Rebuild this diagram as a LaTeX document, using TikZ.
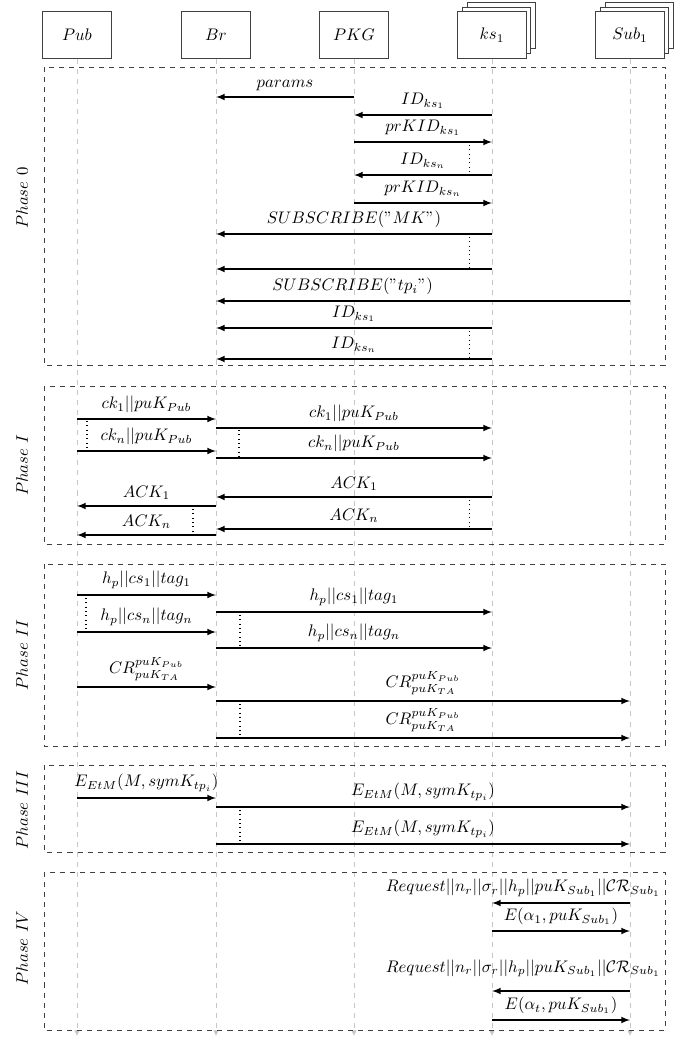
\documentclass[tikz,border=0pt]{standalone}
\usetikzlibrary{arrows.meta,shadows}
\tikzset{
  actor box/.style={draw=black!75, semithick, fill=white, minimum width=1.43cm, minimum height=0.97cm, inner sep=0pt},
  actor stack/.style={actor box, double copy shadow={shadow xshift=1mm, shadow yshift=1mm, draw=black!75, fill=white}},
  life line/.style={gray!45, dashed, thin, -{Latex[length=1.2mm,width=1.2mm]}},
  phase box/.style={draw=black!75, dashed, thin},
  phase label/.style={rotate=90},
  msg/.style={thick, -latex},
  msg label/.style={midway, above},
  msg dots/.style={dotted, semithick},
}
\newcommand{\sendmsg}[5][]{\draw[msg] (#2 |- 0,#4) -- node[msg label,#1] {#5} (#3 |- 0,#4);}

\begin{document}
\begin{tikzpicture}[x=0.021cm, y=-0.021cm]
\useasboundingbox (0,0) rectangle (686,1040);

\node[actor box] (pub) at (77,35) {$Pub$};
\node[actor box] (br) at (216,35) {$Br$};
\node[actor box] (pkg) at (354,35) {$PKG$};
\node[actor stack] (ks) at (492,35) {$ks_1$};
\node[actor stack] (sub) at (630,35) {$Sub_1$};

\coordinate (bottom) at (0,1036);
\foreach \a in {pub,br,pkg,ks,sub}
  \draw[life line] (\a.south) -- (\a.south |- bottom);

\draw[phase box] (44,67) rectangle (665,365);
\draw[phase box] (44,386) rectangle (665,544);
\draw[phase box] (44,564) rectangle (665,746);
\draw[phase box] (44,765) rectangle (665,852);
\draw[phase box] (44,872) rectangle (665,1030);

\node[phase label] (ph0) at (22,198) {$Phase\ 0$};
\node[phase label] (ph1) at (22,465) {$Phase\ I$};
\node[phase label] (ph2) at (22,655) {$Phase\ II$};
\node[phase label] (ph3) at (22,810) {$Phase\ III$};
\node[phase label] (ph4) at (22,948) {$Phase\ IV$};

\sendmsg{pkg}{br}{97}{$params$}
\sendmsg{ks}{pkg}{115}{$ID_{ks_1}$}
\sendmsg{pkg}{ks}{142}{$prKID_{ks_1}$}
\draw[msg dots] (469,145) -- (469,174);
\sendmsg{ks}{pkg}{175}{$ID_{ks_n}$}
\sendmsg{pkg}{ks}{203}{$prKID_{ks_n}$}
\sendmsg{ks}{br}{234}{$SUBSCRIBE("MK")$}
\draw[msg dots] (469,237) -- (469,268);
\sendmsg{ks}{br}{269}{}
\sendmsg[pos=0.67]{sub}{br}{301}{$SUBSCRIBE("tp_i")$}
\sendmsg{ks}{br}{328}{$ID_{ks_1}$}
\draw[msg dots] (469,331) -- (469,358);
\sendmsg{ks}{br}{359}{$ID_{ks_n}$}

\sendmsg{pub}{br}{419}{$ck_1||puK_{Pub}$}
\draw[msg dots] (87,421) -- (87,450);
\sendmsg{pub}{br}{451}{$ck_n||puK_{Pub}$}
\sendmsg{br}{ks}{428}{$ck_1||puK_{Pub}$}
\draw[msg dots] (239,430) -- (239,457);
\sendmsg{br}{ks}{458}{$ck_n||puK_{Pub}$}
\sendmsg{ks}{br}{497}{$ACK_1$}
\draw[msg dots] (469,500) -- (469,528);
\sendmsg{ks}{br}{529}{$ACK_n$}
\sendmsg{br}{pub}{506}{$ACK_1$}
\draw[msg dots] (193,509) -- (193,534);
\sendmsg{br}{pub}{535}{$ACK_n$}

\sendmsg{pub}{br}{595}{$h_p||cs_1||tag_1$}
\draw[msg dots] (86,598) -- (86,631);
\sendmsg{pub}{br}{632}{$h_p||cs_n||tag_n$}
\sendmsg{br}{ks}{612}{$h_p||cs_1||tag_1$}
\draw[msg dots] (240,615) -- (240,647);
\sendmsg{br}{ks}{648}{$h_p||cs_n||tag_n$}
\sendmsg{pub}{br}{687}{$CR^{puK_{Pub}}_{puK_{TA}}$}
\sendmsg{br}{sub}{701}{$CR^{puK_{Pub}}_{puK_{TA}}$}
\draw[msg dots] (240,704) -- (240,737);
\sendmsg{br}{sub}{738}{$CR^{puK_{Pub}}_{puK_{TA}}$}

\sendmsg{pub}{br}{798}{$E_{EtM}(M, symK_{tp_i})$}
\sendmsg{br}{sub}{807}{$E_{EtM}(M, symK_{tp_i})$}
\draw[msg dots] (240,810) -- (240,843);
\sendmsg{br}{sub}{844}{$E_{EtM}(M, symK_{tp_i})$}

\sendmsg[pos=0, anchor=south east, xshift=0.77cm]{sub}{ks}{903}{$Request||n_r||\sigma_r||h_p||puK_{Sub_1}||\mathcal{CR}_{Sub_1}$}
\sendmsg{ks}{sub}{931}{$E(\alpha_1, puK_{Sub_1})$}
\sendmsg[pos=0, anchor=south east, xshift=0.77cm, yshift=4.5pt]{sub}{ks}{991}{$Request||n_r||\sigma_r||h_p||puK_{Sub_1}||\mathcal{CR}_{Sub_1}$}
\sendmsg{ks}{sub}{1020}{$E(\alpha_t, puK_{Sub_1})$}
\end{tikzpicture}
\end{document}
